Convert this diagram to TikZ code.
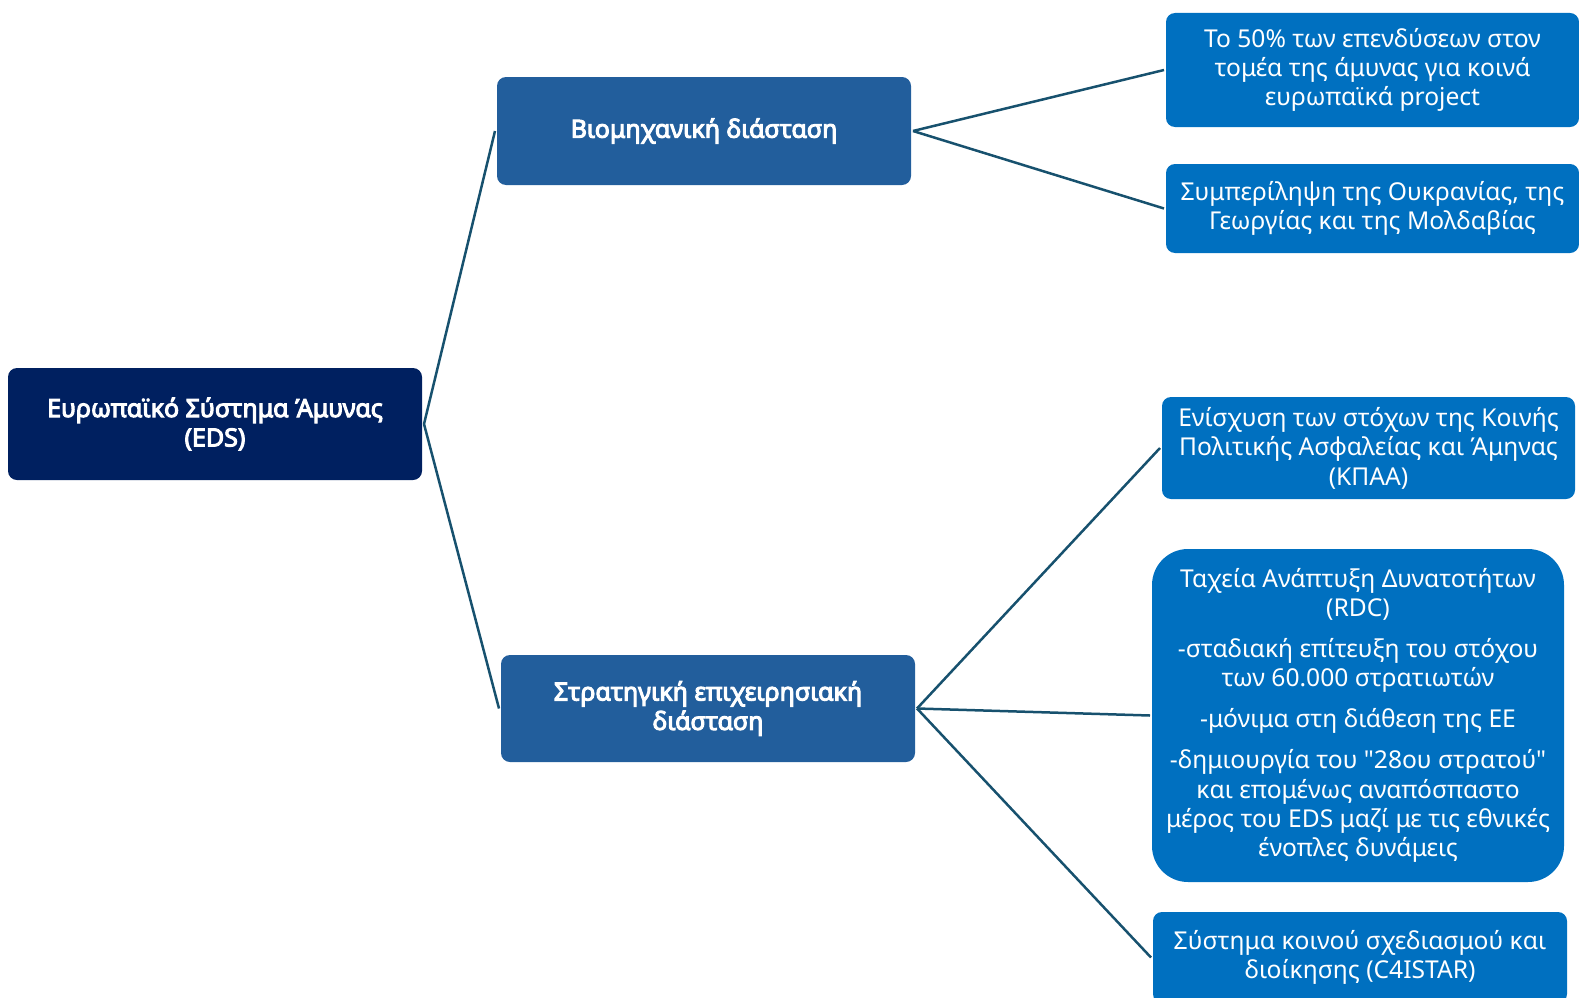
\documentclass[tikz,border=0pt]{standalone}
\usepackage{fontspec}
\setmainfont{Noto Sans}[AutoFakeBold=4,Ligatures=TeXOff]
\begin{document}
\begin{tikzpicture}[x=1pt,y=-1pt,
  base/.style={draw=none,rounded corners=9pt,text=white,align=center,inner sep=0pt,outer sep=2pt},
  rootbox/.style={base,fill=rootc,font=\bfseries\fontsize{25}{29.4}\selectfont},
  midbox/.style={base,fill=midc,font=\bfseries\fontsize{25}{29.4}\selectfont},
  leafbox/.style={base,fill=leafc,font=\fontsize{24.6}{29.4}\selectfont},
  conn/.style={draw=linec,line width=2.5pt}]
\definecolor{rootc}{RGB}{0,32,96}
\definecolor{midc}{RGB}{34,94,156}
\definecolor{leafc}{RGB}{0,112,192}
\definecolor{linec}{RGB}{23,81,110}
\useasboundingbox (0,0) rectangle (1579,998);
\clip (0,0) rectangle (1579,998);
\node[rootbox,minimum width=414pt,minimum height=112pt] (root) at (215,424) {Ευρωπαϊκό Σύστημα Άμυνας\\(EDS)};
\node[midbox,minimum width=414pt,minimum height=108pt] (bio) at (704,131) {Βιομηχανική διάσταση};
\node[midbox,minimum width=414pt,minimum height=107pt] (strat) at (708,708.5) {Στρατηγική επιχειρησιακή\\διάσταση};
\node[leafbox,minimum width=413pt,minimum height=114pt] (l1) at (1372.5,70) {Το 50\% των επενδύσεων στον\\τομέα της άμυνας για κοινά\\ευρωπαϊκά project};
\node[leafbox,minimum width=413pt,minimum height=89pt] (l2) at (1372.5,208.5) {Συμπερίληψη της Ουκρανίας, της\\Γεωργίας και της Μολδαβίας};
\node[leafbox,minimum width=413pt,minimum height=102pt] (l3) at (1368.5,448) {Ενίσχυση των στόχων της Κοινής\\Πολιτικής Ασφαλείας και Άμηνας\\(ΚΠΑΑ)};
\node[leafbox,rounded corners=36pt,minimum width=412pt,minimum height=333pt] (l4) at (1358,715.5) {Ταχεία Ανάπτυξη Δυνατοτήτων\\(RDC)\\[11.5pt]-σταδιακή επίτευξη του στόχου\\των 60.000 στρατιωτών\\[11.5pt]-μόνιμα στη διάθεση της ΕΕ\\[11.5pt]-δημιουργία του "28ου στρατού"\\και επομένως αναπόσπαστο\\μέρος του EDS μαζί με τις εθνικές\\ένοπλες δυνάμεις};
\node[leafbox,minimum width=414pt,minimum height=91pt] (l5) at (1360,957.5) {Σύστημα κοινού σχεδιασμού και\\διοίκησης (C4ISTAR)};
\draw[conn] (root.east) -- (bio.west);
\draw[conn] (root.east) -- (strat.west);
\draw[conn] (bio.east) -- (l1.west);
\draw[conn] (bio.east) -- (l2.west);
\draw[conn] (strat.east) -- (l3.west);
\draw[conn] (strat.east) -- (l4.west);
\draw[conn] (strat.east) -- (l5.west);
\end{tikzpicture}
\end{document}
